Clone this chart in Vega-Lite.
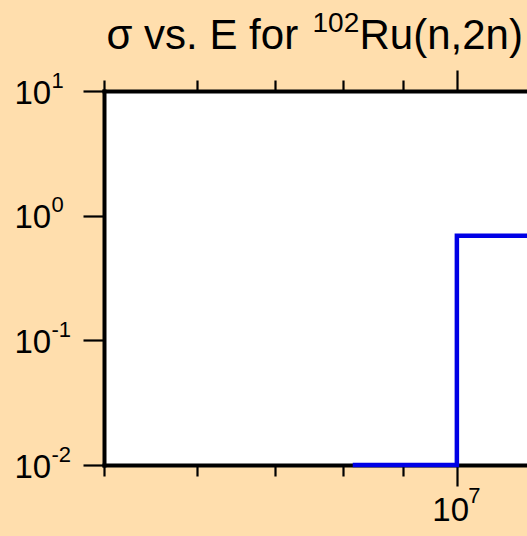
{
  "$schema": "https://vega.github.io/schema/vega-lite/v6.json",
  "autosize": {"type": "none"},
  "width": 423,
  "height": 374,
  "padding": {"left": 104, "top": 91, "right": 0, "bottom": 71},
  "background": "#FFDEAD",
  "config": {
    "view": {"fill": "white", "stroke": null},
    "axis": {
      "domainColor": "black",
      "domainWidth": 4,
      "domainCap": "square",
      "tickColor": "black",
      "tickWidth": 2.2,
      "labelColor": "black",
      "titleColor": "black",
      "labelFont": "Liberation Sans",
      "titleFont": "Liberation Sans",
      "titleFontWeight": "normal",
      "labelOverlap": false,
      "labelFlush": false,
      "labelBound": false,
      "grid": false
    }
  },
  "data": {
    "values": [
      {"E": 8150000, "sigma": 0.01},
      {"E": 10000000, "sigma": 0.69},
      {"E": 13000000, "sigma": 0.69}
    ]
  },
  "layer": [
    {
      "mark": {"type": "line", "color": "#0000e6", "strokeWidth": 4.5, "interpolate": "step-after", "strokeJoin": "miter", "strokeCap": "butt"},
      "encoding": {
        "x": {
          "field": "E", "type": "quantitative",
          "scale": {"type": "log", "domain": [5000000, 11477000], "nice": false, "zero": false},
          "axis": {
            "orient": "bottom",
            "values": [5000000, 6000000, 7000000, 8000000, 9000000, 10000000],
            "tickSize": {"condition": {"test": "datum.value == 10000000", "value": 21}, "value": 11},
            "labels": false,
            "title": "σ vs. E for",
            "titleX": 2, "titleY": -417,
            "titleAlign": "left", "titleBaseline": "alphabetic", "titleAngle": 0,
            "titleFontSize": 42
          }
        },
        "y": {
          "field": "sigma", "type": "quantitative",
          "scale": {"type": "log", "domain": [0.01, 10], "nice": false, "zero": false},
          "axis": {
            "orient": "left",
            "values": [0.01, 0.1, 1, 10],
            "tickSize": 21,
            "labels": false,
            "title": null
          }
        }
      }
    },
    {
      "mark": {"type": "line", "opacity": 0, "interpolate": "step-after"},
      "encoding": {
        "x": {
          "field": "E", "type": "quantitative",
          "scale": {"type": "log", "domain": [5000000, 11477000], "nice": false, "zero": false},
          "axis": {
            "orient": "top",
            "values": [5000000, 6000000, 7000000, 8000000, 9000000, 10000000],
            "tickSize": {"condition": {"test": "datum.value == 10000000", "value": 21}, "value": 11},
            "labels": false,
            "title": "Ru(n,2n)",
            "titleX": 255, "titleY": -43,
            "titleAlign": "left", "titleBaseline": "alphabetic", "titleAngle": 0,
            "titleFontSize": 42
          }
        },
        "y": {
          "field": "sigma", "type": "quantitative",
          "scale": {"type": "log", "domain": [0.01, 10], "nice": false, "zero": false},
          "axis": null
        }
      }
    },
    {
      "mark": {"type": "line", "opacity": 0, "interpolate": "step-after"},
      "encoding": {
        "x": {
          "field": "E", "type": "quantitative",
          "scale": {"type": "log", "domain": [5000000, 11477000], "nice": false, "zero": false},
          "axis": {
            "orient": "bottom",
            "values": [10000000],
            "ticks": false, "tickSize": 0, "domain": false,
            "labelExpr": "'10'",
            "labelFontSize": 33,
            "labelAlign": "left", "labelBaseline": "alphabetic",
            "labelOffset": -25, "labelPadding": 55,
            "title": null
          }
        },
        "y": {
          "field": "sigma", "type": "quantitative",
          "scale": {"type": "log", "domain": [0.01, 10], "nice": false, "zero": false},
          "axis": {
            "orient": "left",
            "values": [0.01, 0.1, 1, 10],
            "ticks": false, "tickSize": 0, "domain": false,
            "labelExpr": "'10'",
            "labelFontSize": 33,
            "labelAlign": "left", "labelBaseline": "alphabetic",
            "labelOffset": 12, "labelPadding": 90,
            "title": "102",
            "titleX": 208, "titleY": -60,
            "titleAlign": "left", "titleBaseline": "alphabetic", "titleAngle": 0,
            "titleFontSize": 28
          }
        }
      }
    },
    {
      "mark": {"type": "line", "opacity": 0, "interpolate": "step-after"},
      "encoding": {
        "x": {
          "field": "E", "type": "quantitative",
          "scale": {"type": "log", "domain": [5000000, 11477000], "nice": false, "zero": false},
          "axis": {
            "orient": "bottom",
            "values": [10000000],
            "ticks": false, "tickSize": 0, "domain": false,
            "labelExpr": "'7'",
            "labelFontSize": 22,
            "labelAlign": "left", "labelBaseline": "alphabetic",
            "labelOffset": 11, "labelPadding": 37,
            "title": null
          }
        },
        "y": {
          "field": "sigma", "type": "quantitative",
          "scale": {"type": "log", "domain": [0.01, 10], "nice": false, "zero": false},
          "axis": {
            "orient": "left",
            "values": [0.01, 0.1, 1, 10],
            "ticks": false, "tickSize": 0, "domain": false,
            "labelExpr": "datum.value < 0.05 ? '-2' : datum.value < 0.5 ? '-1' : datum.value < 5 ? '0' : '1'",
            "labelFontSize": 22,
            "labelAlign": "left", "labelBaseline": "alphabetic",
            "labelOffset": -4, "labelPadding": 53,
            "title": null
          }
        }
      }
    }
  ],
  "resolve": {
    "scale": {"x": "shared", "y": "shared"},
    "axis": {"x": "independent", "y": "independent"}
  }
}
